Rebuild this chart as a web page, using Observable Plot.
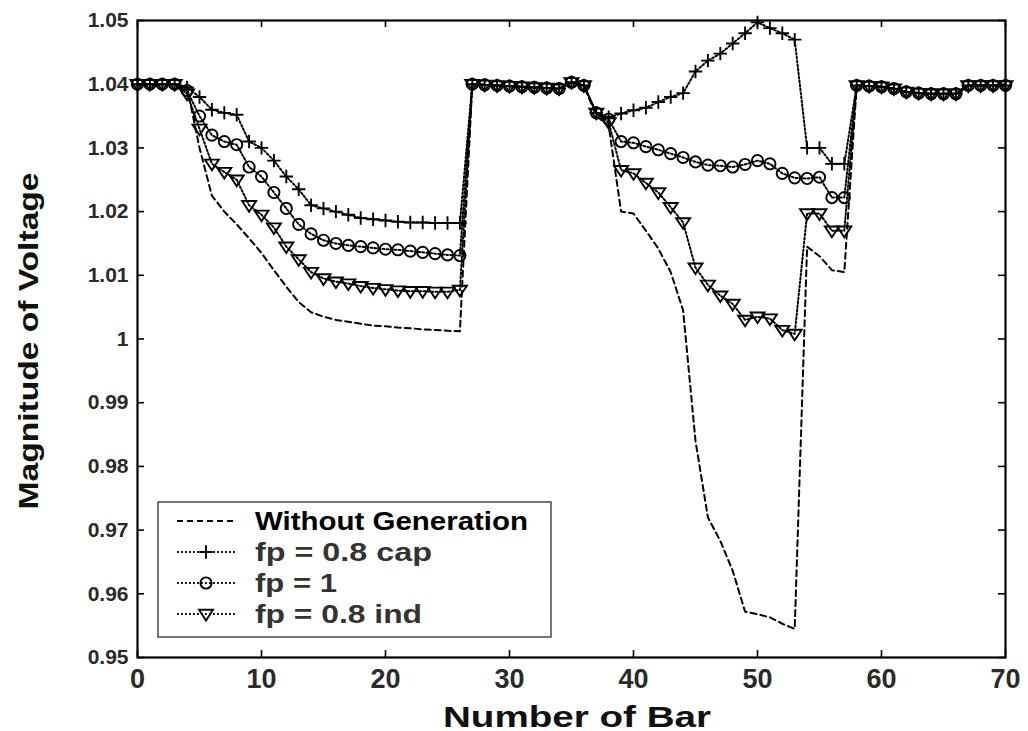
<!DOCTYPE html>
<html><head><meta charset="utf-8">
<script src="https://cdn.jsdelivr.net/npm/d3@7"></script>
<script src="https://cdn.jsdelivr.net/npm/@observablehq/plot@0.6"></script>
<style>body{margin:0;background:#fff;} #chart{width:1028px;height:731px;}</style>
</head><body><div id="chart"></div>
<script>
// ---------- data ----------
const bars = [0,1,2,3,4,5,6,7,8,9,10,11,12,13,14,15,16,17,18,19,20,21,22,23,24,25,26,27,28,29,30,31,32,33,34,35,36,37,38,39,40,41,42,43,44,45,46,47,48,49,50,51,52,53,54,55,56,57,58,59,60,61,62,63,64,65,66,67,68,69,70];

const withoutGeneration = [
  1.0400,1.0400,1.0400,1.0400,1.0395,1.0300,1.0225,1.0200,1.0180,1.0158,
  1.0135,1.0108,1.0082,1.0058,1.0042,1.0035,1.0030,1.0027,1.0024,1.0021,
  1.0020,1.0018,1.0017,1.0015,1.0014,1.0013,1.0012,
  1.0400,1.0399,1.0398,1.0397,1.0396,1.0395,1.0394,1.0393,1.0403,1.0398,
  1.0350,1.0335,1.0200,1.0197,1.0170,1.0142,1.0105,1.0045,0.9840,0.9720,
  0.9683,0.9636,0.9572,0.9568,0.9563,0.9553,0.9545,1.0145,1.0130,1.0108,1.0105,
  1.0398,1.0397,1.0396,1.0393,1.0388,1.0386,1.0385,1.0385,1.0385,1.0398,1.0398,1.0398,1.0398
];
const fpCap = [
  1.0400,1.0400,1.0400,1.0400,1.0395,1.0380,1.0360,1.0355,1.0352,1.0310,
  1.0300,1.0280,1.0255,1.0235,1.0210,1.0205,1.0200,1.0195,1.0190,1.0188,
  1.0186,1.0184,1.0183,1.0183,1.0182,1.0182,1.0182,
  1.0400,1.0399,1.0398,1.0397,1.0396,1.0395,1.0394,1.0393,1.0403,1.0398,
  1.0355,1.0348,1.0354,1.0359,1.0363,1.0372,1.0380,1.0386,1.0420,1.0437,
  1.0448,1.0464,1.0480,1.0497,1.0488,1.0480,1.0470,1.0300,1.0300,1.0275,1.0275,
  1.0398,1.0397,1.0396,1.0393,1.0388,1.0386,1.0385,1.0385,1.0385,1.0398,1.0398,1.0398,1.0398
];
const fpOne = [
  1.0400,1.0400,1.0400,1.0400,1.0390,1.0350,1.0320,1.0310,1.0305,1.0270,
  1.0255,1.0230,1.0205,1.0180,1.0165,1.0155,1.0150,1.0147,1.0145,1.0143,
  1.0141,1.0140,1.0138,1.0136,1.0134,1.0132,1.0131,
  1.0400,1.0399,1.0398,1.0397,1.0396,1.0395,1.0394,1.0393,1.0403,1.0398,
  1.0355,1.0345,1.0310,1.0308,1.0302,1.0297,1.0291,1.0285,1.0278,1.0273,
  1.0272,1.0270,1.0274,1.0280,1.0275,1.0260,1.0253,1.0252,1.0254,1.0222,1.0222,
  1.0398,1.0397,1.0396,1.0393,1.0388,1.0386,1.0385,1.0385,1.0385,1.0398,1.0398,1.0398,1.0398
];
const fpInd = [
  1.0400,1.0400,1.0400,1.0400,1.0385,1.0330,1.0275,1.0262,1.0250,1.0210,
  1.0195,1.0175,1.0145,1.0125,1.0105,1.0095,1.0090,1.0087,1.0083,1.0080,
  1.0078,1.0076,1.0075,1.0075,1.0074,1.0074,1.0077,
  1.0400,1.0399,1.0398,1.0397,1.0396,1.0395,1.0394,1.0393,1.0403,1.0398,
  1.0355,1.0340,1.0265,1.0260,1.0245,1.0230,1.0207,1.0183,1.0112,1.0085,
  1.0068,1.0055,1.0030,1.0035,1.0032,1.0014,1.0008,1.0197,1.0197,1.0170,1.0170,
  1.0398,1.0397,1.0396,1.0393,1.0388,1.0386,1.0385,1.0385,1.0385,1.0398,1.0398,1.0398,1.0398
];

const xTicks = [0,10,20,30,40,50,60,70];
const xTickLabels = ["0","10","20","30","40","50","60","70"];
const yTicks = [0.95,0.96,0.97,0.98,0.99,1.00,1.01,1.02,1.03,1.04,1.05];
const yTickLabels = ["0.95","0.96","0.97","0.98","0.99","1","1.01","1.02","1.03","1.04","1.05"];

const seriesNames = ["Without Generation","fp = 0.8 cap","fp = 1","fp = 0.8 ind"];
const xLabel = "Number of Bar";
const yLabel = "Magnitude of Voltage";

// ---------- build ----------
const toRows = vals => bars.map((b,i) => ({bar:b, v:vals[i]}));
const rowsW = toRows(withoutGeneration), rowsCap = toRows(fpCap), rowsOne = toRows(fpOne), rowsInd = toRows(fpInd);

const W = 1028, H = 731, mL = 137, mR = 23, mT = 20, mB = 74;
const plotW = W - mL - mR, plotH = H - mT - mB;
const FONT = "'Liberation Sans', Arial, Helvetica, sans-serif";

const downTri = {draw(ctx, size){ const s = Math.sqrt(size/Math.PI);
  ctx.moveTo(-1.25*s,-0.75*s); ctx.lineTo(1.25*s,-0.75*s); ctx.lineTo(0,1.15*s); ctx.closePath(); }};

const dotted = {stroke:"black", strokeWidth:2, strokeDasharray:"1.8,2.2"};
const mk = {stroke:"black", strokeWidth:1.9, fill:"none"};

const svg = Plot.plot({
  width: W, height: H, marginLeft: mL, marginRight: mR, marginTop: mT, marginBottom: mB,
  x: {domain:[0,70]}, y: {domain:[0.95,1.05]},
  style: {fontFamily: FONT, background: "white", overflow: "visible"},
  marks: [
    Plot.line(rowsW, {x:"bar", y:"v", stroke:"black", strokeWidth:2, strokeDasharray:"6,4"}),
    Plot.line(rowsCap, {x:"bar", y:"v", ...dotted}),
    Plot.line(rowsOne, {x:"bar", y:"v", ...dotted}),
    Plot.line(rowsInd, {x:"bar", y:"v", ...dotted}),
    Plot.dot(rowsCap, {x:"bar", y:"v", symbol:"plus", r:4.4, ...mk}),
    Plot.dot(rowsOne, {x:"bar", y:"v", symbol:"circle", r:5.6, ...mk}),
    Plot.dot(rowsInd, {x:"bar", y:"v", symbol:downTri, r:5.6, ...mk}),
    Plot.tickX(xTicks, {x:d=>d, insetTop: plotH-7, stroke:"black", strokeWidth:1.6}),
    Plot.tickX(xTicks, {x:d=>d, insetBottom: plotH-7, stroke:"black", strokeWidth:1.6}),
    Plot.tickY(yTicks, {y:d=>d, insetRight: plotW-7, stroke:"black", strokeWidth:1.6}),
    Plot.tickY(yTicks, {y:d=>d, insetLeft: plotW-7, stroke:"black", strokeWidth:1.6}),
    Plot.axisX(xTicks, {tickSize:0, tickPadding:11, label:null, fontSize:27, fontWeight:"bold", color:"#2a2a2a",
      tickFormat: d => xTickLabels[xTicks.indexOf(d)]}),
    Plot.axisY(yTicks, {tickSize:0, tickPadding:9, label:null, fontSize:21, fontWeight:"bold", color:"#2a2a2a",
      tickFormat: d => yTickLabels[yTicks.indexOf(d)]}),
    Plot.frame({stroke:"black", strokeWidth:2.2})
  ]
});
document.getElementById("chart").appendChild(svg);

// ---------- axis titles and legend ----------
const s = d3.select(svg);
s.append("text").attr("x", 577).attr("y", 727).attr("text-anchor","middle")
  .attr("font-family", FONT).attr("font-weight","bold").attr("font-size", 30).attr("fill","#111")
  .attr("textLength", 268).attr("lengthAdjust","spacingAndGlyphs").text(xLabel);
s.append("text").attr("transform","translate(38,341) rotate(-90)").attr("text-anchor","middle")
  .attr("font-family", FONT).attr("font-weight","bold").attr("font-size", 27).attr("fill","#111")
  .attr("textLength", 337).attr("lengthAdjust","spacingAndGlyphs").text(yLabel);

const lg = s.append("g");
lg.append("rect").attr("x",158).attr("y",502).attr("width",393).attr("height",135)
  .attr("fill","white").attr("stroke","#555").attr("stroke-width",1.6);
const rowY = [521, 552, 583, 614];
const textLens = [273, 177, 82, 167];
const symbols = [null, d3.symbolPlus, d3.symbolCircle, downTri];
const symSizes = [0, Math.PI*4.4*4.4, Math.PI*5.6*5.6, Math.PI*5.6*5.6];
seriesNames.forEach((name, i) => {
  const y = rowY[i];
  const ln = lg.append("line").attr("x1",177).attr("x2",235).attr("y1",y).attr("y2",y)
    .attr("stroke","black");
  if (i === 0) ln.attr("stroke-width",2).attr("stroke-dasharray","6,4");
  else {
    ln.attr("stroke-width",2).attr("stroke-dasharray","1.8,2.2");
    lg.append("path").attr("transform",`translate(206,${y})`)
      .attr("d", d3.symbol(symbols[i], symSizes[i])()).attr("fill","none")
      .attr("stroke","black").attr("stroke-width",1.9);
  }
  lg.append("text").attr("x",255).attr("y",y).attr("dy","0.36em").attr("text-anchor","start")
    .attr("font-family",FONT).attr("font-weight","bold").attr("font-size",25)
    .attr("fill", i === 0 ? "#000" : "#333")
    .attr("textLength", textLens[i]).attr("lengthAdjust","spacingAndGlyphs").text(name);
});
</script>
</body></html>
